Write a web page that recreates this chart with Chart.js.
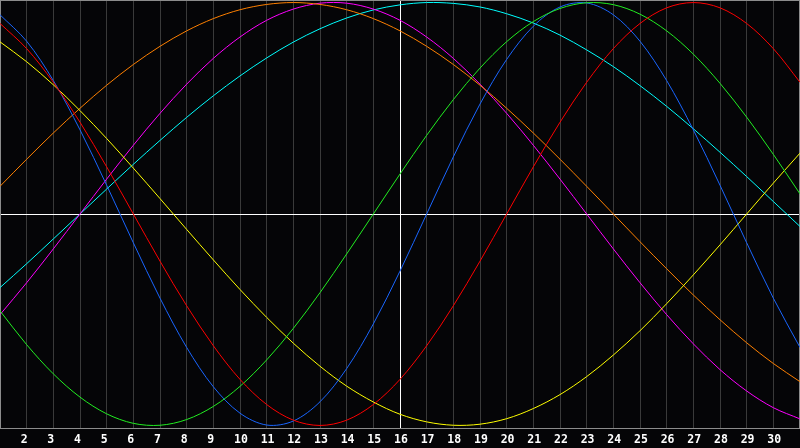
<!DOCTYPE html>
<html>
<head>
<meta charset="utf-8">
<title>Biorhythm</title>
<script src="https://cdn.jsdelivr.net/npm/chart.js@4/dist/chart.umd.min.js"></script>
<style>
  html, body { margin: 0; padding: 0; background: #050507; }
  #wrap { width: 800px; height: 448px; }
</style>
</head>
<body>
<div id="wrap"><canvas id="bio"></canvas></div>
<script>
// days of the month
const days = [1, 2, 3, 4, 5, 6, 7, 8, 9, 10, 11, 12, 13, 14, 15, 16,
  17, 18, 19, 20, 21, 22, 23, 24, 25, 26, 27, 28, 29, 30, 31];

// values, one per day (-1 .. 1)
const redVals = [0.901, 0.782, 0.623, 0.434, 0.223, 0, -0.223, -0.434, -0.623, -0.782,
  -0.901, -0.975, -1, -0.975, -0.901, -0.782, -0.623, -0.434, -0.223, 0,
  0.223, 0.434, 0.623, 0.782, 0.901, 0.975, 1, 0.975, 0.901, 0.782, 0.623];
const greenVals = [-0.458, -0.618, -0.756, -0.866, -0.945, -0.990, -0.999, -0.972, -0.910, -0.815,
  -0.690, -0.541, -0.372, -0.189, 0, 0.189, 0.372, 0.541, 0.690, 0.815,
  0.910, 0.972, 0.999, 0.990, 0.945, 0.866, 0.756, 0.618, 0.458, 0.282, 0.095];
const blueVals = [0.942, 0.817, 0.631, 0.398, 0.136, -0.136, -0.398, -0.631, -0.817, -0.942,
  -0.998, -0.979, -0.888, -0.731, -0.520, -0.270, 0, 0.270, 0.520, 0.731,
  0.888, 0.979, 0.998, 0.942, 0.817, 0.631, 0.398, 0.136, -0.136, -0.398, -0.631];
const yellowVals = [0.814, 0.720, 0.611, 0.489, 0.357, 0.217, 0.073, -0.073, -0.217, -0.357,
  -0.489, -0.611, -0.720, -0.814, -0.889, -0.947, -0.983, -0.999, -0.994, -0.968,
  -0.920, -0.854, -0.769, -0.667, -0.552, -0.424, -0.288, -0.146, 0, 0.146, 0.288];
const orangeVals = [0.131, 0.259, 0.383, 0.5, 0.609, 0.707, 0.793, 0.866, 0.924, 0.966,
  0.991, 1, 0.991, 0.966, 0.924, 0.866, 0.793, 0.707, 0.609, 0.5,
  0.383, 0.259, 0.131, 0, -0.131, -0.259, -0.383, -0.5, -0.609, -0.707, -0.793];
const magentaVals = [-0.476, -0.325, -0.165, 0, 0.165, 0.325, 0.476, 0.614, 0.736, 0.837,
  0.916, 0.969, 0.997, 0.997, 0.969, 0.916, 0.837, 0.736, 0.614, 0.476,
  0.325, 0.165, 0, -0.165, -0.325, -0.476, -0.614, -0.736, -0.837, -0.916, -0.969];
const cyanVals = [-0.348, -0.235, -0.118, 0, 0.118, 0.235, 0.348, 0.457, 0.559, 0.653,
  0.738, 0.813, 0.876, 0.927, 0.965, 0.989, 1, 0.996, 0.979, 0.947,
  0.903, 0.846, 0.776, 0.697, 0.607, 0.509, 0.403, 0.292, 0.177, 0.059, -0.059];

const today = 16;

function line(vals, color) {
  return {
    data: vals,
    borderColor: color,
    borderWidth: 1,
    pointRadius: 0,
    tension: 0.33,
    fill: false
  };
}

// grey frame round the plot
const frame = {
  id: 'frame',
  beforeDatasetsDraw(chart) {
    const a = chart.chartArea;
    const c = chart.ctx;
    c.save();
    c.strokeStyle = '#8c8c8c';
    c.lineWidth = 1;
    c.strokeRect(a.left + 0.5, a.top + 0.5, a.right - a.left - 1, a.bottom - a.top);
    c.restore();
  }
};

new Chart(document.getElementById('bio'), {
  type: 'line',
  data: {
    labels: days,
    datasets: [
      line(redVals, '#ff0000'),
      line(greenVals, '#22ee22'),
      line(blueVals, '#1a66ff'),
      line(yellowVals, '#ffff00'),
      line(orangeVals, '#ff8000'),
      line(magentaVals, '#ff00ff'),
      line(cyanVals, '#00ffff')
    ]
  },
  plugins: [frame],
  options: {
    responsive: true,
    maintainAspectRatio: false,
    devicePixelRatio: 1,
    animation: false,
    layout: { autoPadding: false, padding: 0 },
    plugins: {
      legend: { display: false },
      tooltip: { enabled: false }
    },
    scales: {
      x: {
        offset: false,
        border: { display: false },
        grid: {
          drawTicks: true,
          tickLength: 4.4,
          tickColor: 'rgba(0,0,0,0)',
          color: (ctx) => (days[ctx.index] === today ? '#ffffff' : '#3a3a3a'),
          lineWidth: 1
        },
        ticks: {
          autoSkip: false,
          maxRotation: 0,
          align: 'start',
          labelOffset: -6,
          padding: 0,
          color: '#ffffff',
          font: { family: 'DejaVu Sans Mono', size: 11.5, weight: 'bold', lineHeight: 15.6 / 11.5 },
          callback: (v, i) => (i === 0 || i === days.length - 1 ? '' : String(days[i]))
        }
      },
      y: {
        min: -1.012,
        max: 1.012,
        border: { display: false },
        afterBuildTicks: (axis) => { axis.ticks = [{ value: 0 }]; },
        grid: { drawTicks: false, color: '#ffffff', lineWidth: 1 },
        ticks: { display: false }
      }
    }
  }
});
</script>
</body>
</html>
